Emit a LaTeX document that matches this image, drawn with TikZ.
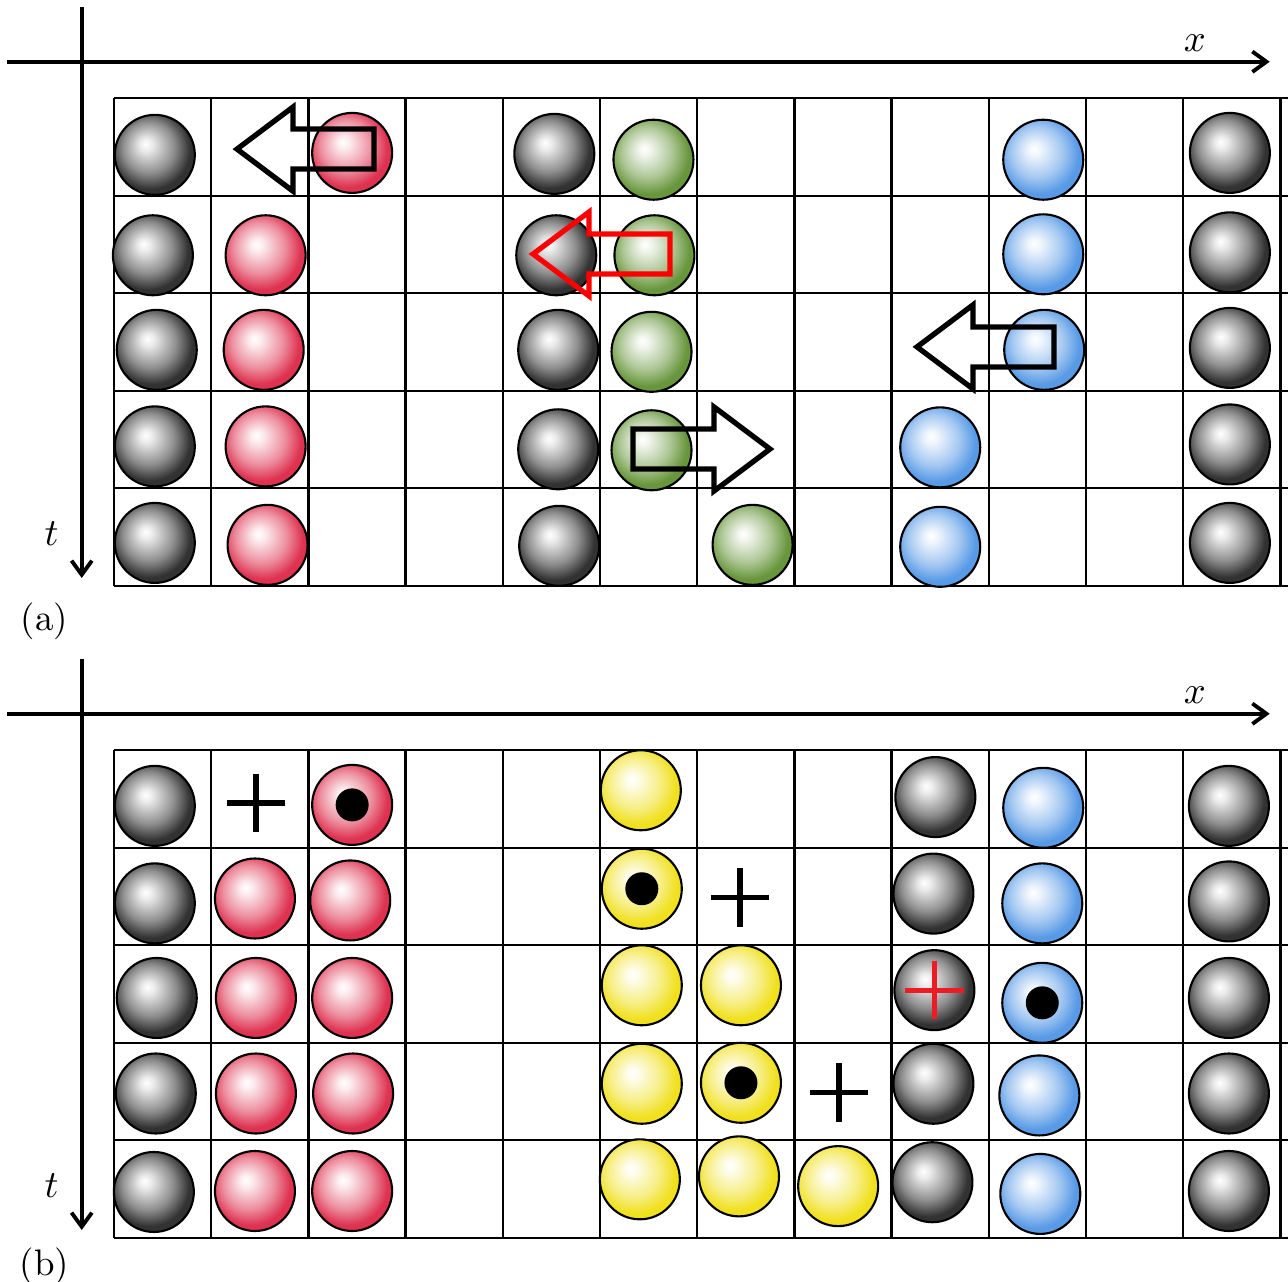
\documentclass[tikz,border=0pt]{standalone}
\usepackage{xcolor,amsmath,amssymb}
\usepackage{tikz}
\usetikzlibrary{arrows.meta}

\definecolor{ballgray}{RGB}{50,50,50}
\definecolor{ballred}{RGB}{222,50,80}
\definecolor{ballgreen}{RGB}{104,150,60}
\definecolor{ballblue}{RGB}{88,154,230}
\definecolor{ballyellow}{RGB}{240,224,30}
\definecolor{crossred}{RGB}{236,28,36}
\colorlet{ballcol}{ballgray}
\pgfdeclareradialshading[ballcol]{softball}{\pgfpoint{-6bp}{7bp}}{%
    color(0bp)=(white); color(4bp)=(ballcol!10!white);
    color(16bp)=(ballcol!55!white); color(25bp)=(ballcol);
    color(50bp)=(ballcol)}

\tikzset{
    set ball/.code={\colorlet{ballcol}{#1}},
    sphere/.style={circle, draw, line width=0.6pt, minimum size=0.8cm,
        inner sep=0pt, set ball=#1, shading=softball},
    cellline/.style={line width=0.65pt},
    axisline/.style={line width=1.1pt, -{Straight Barb[length=4pt,width=5.8pt]}},
    pics/shove/.style={code={
        \draw[line width=1.5pt, pic actions] (0,0) -- (0.576,0.431) -- (0.576,0.205)
            -- (1.41,0.205) -- (1.41,-0.205) -- (0.576,-0.205) -- (0.576,-0.431) -- cycle;}},
    pics/plus/.style={code={
        \draw[line width=1.5pt, pic actions] (-0.3,0) -- (0.3,0) (0,-0.3) -- (0,0.3);}},
}

\begin{document}
\begin{tikzpicture}[x=0.972cm, y=-0.975cm, font=\fontsize{10.5}{12.6}\selectfont]
    \useasboundingbox (-1.1728,-1.0082) rectangle (12.0782,12.1303);
    % (a) moves
    \coordinate (xa0) at (-1.10,-0.375);
    \coordinate (xa1) at (11.89,-0.375);
    \coordinate (ta0) at (-0.332,-0.936);
    \coordinate (ta1) at (-0.332,4.92);
    \draw[axisline] (xa0) -- (xa1);
    \draw[axisline] (ta0) -- (ta1);
    \node at(11.12,-0.567)(xlaba){$x$};
    \node at(-0.643,4.464)(tlaba){$t$};
    \node at(-0.715,5.364)(capa){(a)};
    \foreach \c in {0,...,12} \draw[cellline] (\c,0) -- (\c,5);
    \foreach \r in {0,...,5} \draw[cellline] (0,\r) -- (12.3,\r);
    \foreach \x/\y [count=\i] in {0.42/0.58,0.40/1.61,0.44/2.58,0.42/3.57,0.42/4.56}
        \node[sphere=ballgray] at(\x,\y)(agl\i){};
    \foreach \x/\y [count=\i] in {2.45/0.56,1.56/1.61,1.54/2.58,1.56/3.57,1.58/4.58}
        \node[sphere=ballred] at(\x,\y)(ar\i){};
    \foreach \x/\y [count=\i] in {4.53/0.57,4.55/1.61,4.57/2.58,4.57/3.60,4.58/4.59}
        \node[sphere=ballgray] at(\x,\y)(agm\i){};
    \foreach \x/\y [count=\i] in {5.55/0.63,5.56/1.61,5.53/2.60,5.53/3.61,6.57/4.58}
        \node[sphere=ballgreen] at(\x,\y)(ag\i){};
    \foreach \x/\y [count=\i] in {9.56/0.63,9.56/1.60,9.57/2.58,8.50/3.58,8.50/4.60}
        \node[sphere=ballblue] at(\x,\y)(ab\i){};
    \foreach \x/\y [count=\i] in {11.48/0.56,11.48/1.58,11.48/2.56,11.48/3.55,11.48/4.56}
        \node[sphere=ballgray] at(\x,\y)(agr\i){};
    \pic at (1.265,0.521) {shove};
    \pic[red] at (4.311,1.597) {shove};
    \pic at (8.261,2.550) {shove};
    \pic[xscale=-1] at (6.749,3.597) {shove};

    % (b) splits
    \begin{scope}[shift={(0,6.687)}]
    \coordinate (xb0) at (-1.10,-0.375);
    \coordinate (xb1) at (11.89,-0.375);
    \coordinate (tb0) at (-0.332,-0.936);
    \coordinate (tb1) at (-0.332,4.92);
    \draw[axisline] (xb0) -- (xb1);
    \draw[axisline] (tb0) -- (tb1);
    \node at(11.12,-0.567)(xlabb){$x$};
    \node at(-0.643,4.464)(tlabb){$t$};
    \node at(-0.715,5.294)(capb){(b)};
    \foreach \c in {0,...,12} \draw[cellline] (\c,0) -- (\c,5);
    \foreach \r in {0,...,5} \draw[cellline] (0,\r) -- (12.3,\r);
    \foreach \x/\y [count=\i] in {0.42/0.57,0.42/1.57,0.44/2.54,0.43/3.52,0.41/4.53}
        \node[sphere=ballgray] at(\x,\y)(bgl\i){};
    \foreach \x/\y/\r in {1.45/1.52/2,1.46/2.54/3,1.46/3.52/4,1.45/4.52/5}
        \node[sphere=ballred] at(\x,\y)(br2\r){};
    \foreach \x/\y [count=\i] in {2.45/0.56,2.43/1.54,2.45/2.54,2.46/3.52,2.45/4.52}
        \node[sphere=ballred] at(\x,\y)(br3\i){};
    \foreach \x/\y/\c/\r in {5.42/0.41/6/1,5.43/1.42/6/2,5.43/2.41/6/3,5.43/3.42/6/4,
        5.41/4.40/6/5,6.45/2.41/7/3,6.45/3.41/7/4,6.43/4.37/7/5,7.45/4.47/8/5}
        \node[sphere=ballyellow] at(\x,\y)(by\c\r){};
    \foreach \x/\y [count=\i] in {8.45/0.48,8.43/1.47,8.44/2.46,8.43/3.42,8.42/4.43}
        \node[sphere=ballgray] at(\x,\y)(bgm\i){};
    \foreach \x/\y [count=\i] in {9.56/0.59,9.55/1.57,9.55/2.59,9.52/3.54,9.53/4.55}
        \node[sphere=ballblue] at(\x,\y)(bb\i){};
    \foreach \x/\y [count=\i] in {11.47/0.57,11.47/1.55,11.47/2.54,11.47/3.52,11.47/4.52}
        \node[sphere=ballgray] at(\x,\y)(bgr\i){};
    \coordinate (pl1) at (1.46,0.54);
    \coordinate (pl2) at (6.44,1.51);
    \coordinate (pl3) at (7.46,3.51);
    \foreach \p in {pl1,pl2,pl3} \pic at (\p) {plus};
    \pic[crossred, line width=1.3pt] at (bgm3) {plus};
    \foreach \b in {br31,by62,by74,bb3} \fill (\b) circle[radius=0.165cm];
    \end{scope}
\end{tikzpicture}
\end{document}
